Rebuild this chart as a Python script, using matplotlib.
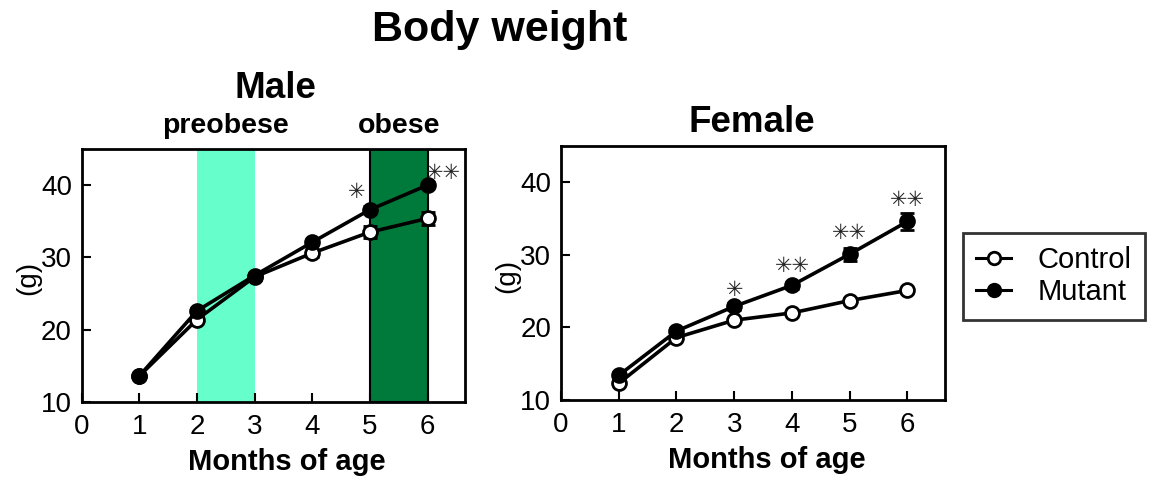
import matplotlib
matplotlib.use("Agg")
import matplotlib.pyplot as plt
from matplotlib.lines import Line2D

plt.rcParams["font.family"] = ["Liberation Sans", "DejaVu Sans"]

# ── Data ──────────────────────────────────────────────────────────────────────
months = [1, 2, 3, 4, 5, 6]

male_ctrl     = [13.6, 21.4, 27.3, 30.6, 33.5, 35.4]
male_ctrl_err = [0.3, 0.4, 0.4, 0.5, 0.8, 0.9]
male_mut      = [13.6, 22.6, 27.5, 32.1, 36.6, 40.0]
male_mut_err  = [0.3, 0.4, 0.3, 0.4, 0.5, 0.4]

fem_ctrl     = [12.3, 18.6, 21.0, 22.0, 23.7, 25.1]
fem_ctrl_err = [0.3, 0.3, 0.3, 0.3, 0.4, 0.4]
fem_mut      = [13.4, 19.5, 22.9, 25.8, 30.1, 34.6]
fem_mut_err  = [0.4, 0.4, 0.5, 0.5, 0.9, 1.2]

# significance marks: (x, y, n_stars)
male_stars = [(4.77, 39.1, 1), (6.27, 41.7, 2)]
fem_stars  = [(3, 25.2, 1), (4, 28.4, 2), (5, 33.0, 2), (6, 37.6, 2)]

PREOBESE = (2, 3)
OBESE    = (5, 6)

# ── Figure ────────────────────────────────────────────────────────────────────
fig = plt.figure(figsize=(11.63, 4.82), dpi=100)
ax_m = fig.add_axes([81.6 / 1163, 1 - 402 / 482, 383.4 / 1163, 253 / 482])
ax_f = fig.add_axes([561 / 1163, 1 - 400 / 482, 384 / 1163, 254 / 482])


def draw_panel(ax, ctrl, ctrl_err, mut, mut_err, stars):
    ax.errorbar(months, ctrl, yerr=ctrl_err, color="black", lw=2.6,
                marker="o", ms=10, mfc="white", mec="black", mew=2,
                capsize=5, capthick=2.2, elinewidth=2.2, zorder=3)
    ax.errorbar(months, mut, yerr=mut_err, color="black", lw=2.6,
                marker="o", ms=10, mfc="black", mec="black", mew=2,
                capsize=5, capthick=2.2, elinewidth=2.2, zorder=4)
    for x, y, n in stars:
        ax.text(x, y, "\u2733" * n, ha="center", va="center",
                fontsize=15, family="DejaVu Sans", color="#222")
    ax.set_xlim(0, 6.65)
    ax.set_ylim(10, 45)
    ax.set_xticks(range(0, 7))
    ax.set_yticks([10, 20, 30, 40])
    ax.tick_params(direction="in", length=6.5, width=1.5, labelsize=20, pad=7)
    ax.tick_params(axis="x", pad=9)
    for sp in ax.spines.values():
        sp.set_linewidth(2)
    ax.text(0.536, -0.237, "Months of age", transform=ax.transAxes,
            ha="center", va="center", fontsize=21, fontweight="bold")
    ax.text(-0.14, 0.49, "(g)", transform=ax.transAxes, rotation=90,
            ha="center", va="center", fontsize=20)


draw_panel(ax_m, male_ctrl, male_ctrl_err, male_mut, male_mut_err, male_stars)
draw_panel(ax_f, fem_ctrl, fem_ctrl_err, fem_mut, fem_mut_err, fem_stars)

ax_m.axvspan(*PREOBESE, color="#66FFCC", lw=0, zorder=0)
ax_m.axvspan(*OBESE, facecolor="#007A3A", edgecolor="black", lw=1.5, zorder=0)

ax_m.text(sum(PREOBESE) / 2, 1.04, "preobese", transform=ax_m.get_xaxis_transform(),
          ha="center", va="bottom", fontsize=20.5, fontweight="bold")
ax_m.text(sum(OBESE) / 2, 1.04, "obese", transform=ax_m.get_xaxis_transform(),
          ha="center", va="bottom", fontsize=20.5, fontweight="bold")

fig.text(275 / 1163, 1 - 88 / 482, "Male", ha="center", va="center",
         fontsize=26.5, fontweight="bold")
fig.text(752 / 1163, 1 - 122 / 482, "Female", ha="center", va="center",
         fontsize=26.5, fontweight="bold")
fig.text(500 / 1163, 1 - 30 / 482, "Body weight", ha="center", va="center",
         fontsize=31, fontweight="bold")

handles = [
    Line2D([], [], color="black", lw=2.2, marker="o", ms=9, mfc="white", mec="black", mew=2),
    Line2D([], [], color="black", lw=2.2, marker="o", ms=9, mfc="black", mec="black", mew=2),
]
leg = fig.legend(handles, ["Control", "Mutant"], loc="upper left",
                 bbox_to_anchor=(963 / 1163, 1 - 233 / 482), fontsize=21,
                 frameon=True, fancybox=False, edgecolor="black",
                 handlelength=1.2, handletextpad=0.9, borderpad=0.45,
                 labelspacing=0.15, borderaxespad=0)
leg.get_frame().set_linewidth(2)

fig.savefig("out.png", dpi=100)
